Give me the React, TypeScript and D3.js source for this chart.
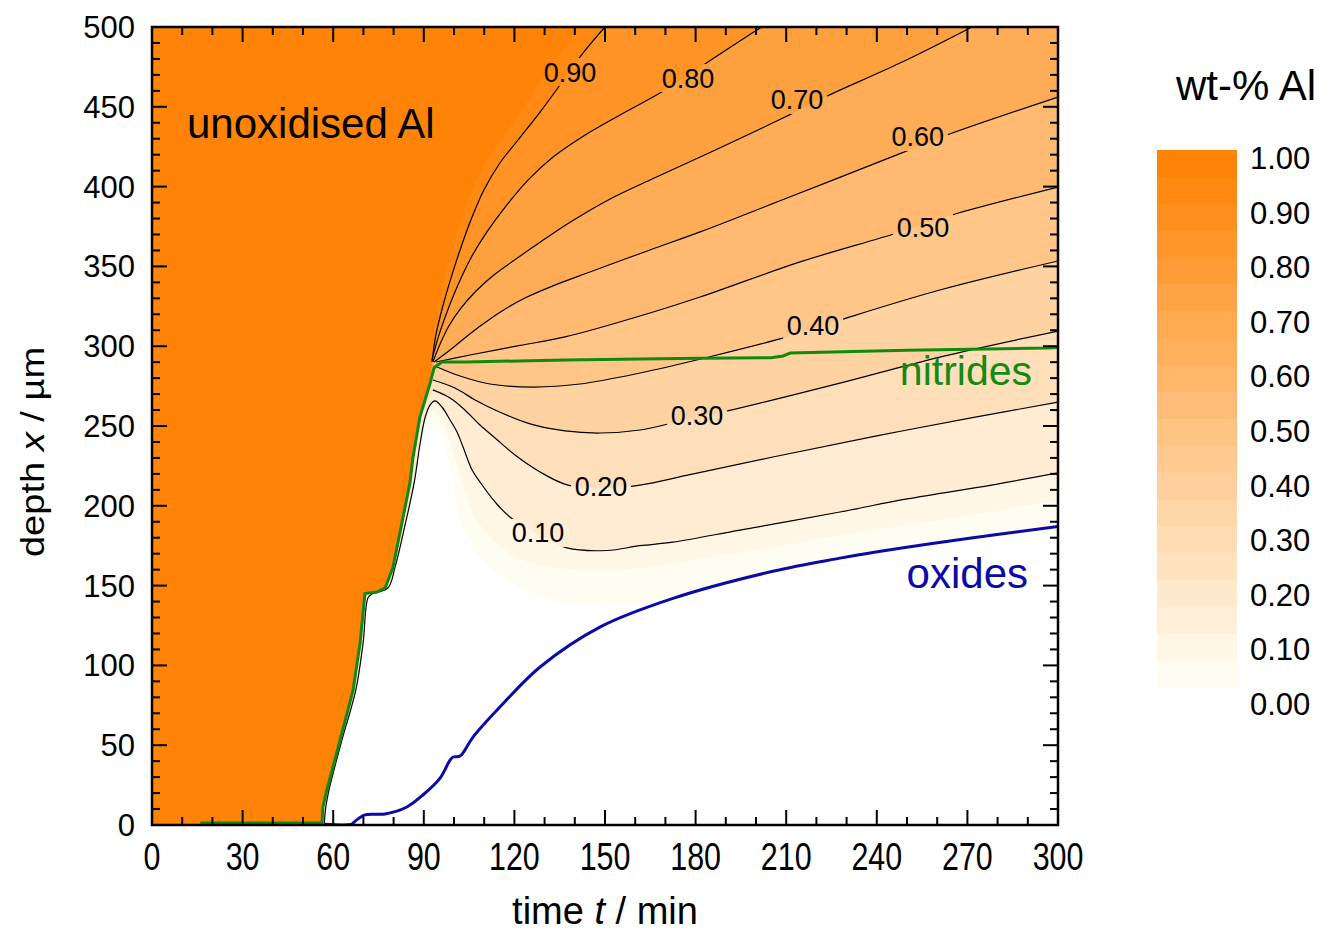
import React from "react";
import * as d3 from "d3";

type P = [number, number];

// axes
const timeTicks = d3.range(0, 301, 30);
const depthTicks = d3.range(0, 501, 50);
const barLabels = [1.0, 0.9, 0.8, 0.7, 0.6, 0.5, 0.4, 0.3, 0.2, 0.1, 0.0];

// [time t (min), depth x (µm)]
const frontEdge: P[] = [
  [56.3, 0], [56.6, 11.3], [57.9, 21.9], [62.3, 53.3], [66.6, 84.6], [68.9, 114.0],
  [70.5, 145.0], [74.4, 146.0], [77.2, 148.5], [79.8, 161.5], [85.4, 214.3],
  [86.4, 230.0], [88.7, 255.6], [92.1, 276.9], [93.4, 286.5],
];
const nitridePlateau: P[] = [
  [96.0, 290.1], [104.3, 290.1], [136.8, 291.4], [161.6, 292.0], [181.5, 292.4],
  [205.0, 292.8], [209.0, 293.9], [211.3, 295.7], [250.0, 297.5], [296.4, 298.9], [300, 299.2],
];
const nitrideBase: P[] = [[16, 1.2], [56.3, 1.2]];
const oxides: P[] = [
  [57, 0.5], [66.2, 0.5], [66.6, 1.3], [70.5, 6.3], [77.2, 6.9], [84.4, 11.3],
  [89.7, 18.8], [95.4, 29.4], [98.7, 40.7], [99.7, 42.6], [102.0, 43.2], [106.3, 55.1],
  [115.2, 73.9], [128.5, 99.0], [148.3, 124.0], [172.5, 142.0], [205.6, 159.0],
  [227.8, 167.2], [238.7, 170.8], [271.9, 180.0], [300, 187.0],
];

// contour levels of wt-% Al
const c000: P[] = [
  [89.1, 241.2], [92.1, 248.7], [94.4, 248.7], [96.4, 241.2], [98.0, 230.0], [99.7, 216.2],
  [102.0, 191.1], [108.6, 167.9], [117.5, 153.5], [128.5, 142.9], [145.0, 137.8],
  [161.6, 139.1], [183.8, 147.2], [205.6, 155.4], [231.1, 164.8], [300, 181.7],
];
const c005: P[] = [
  [90.1, 252.5], [93.0, 259.4], [95.7, 255.0], [98.0, 244.4], [100.3, 229.9], [102.6, 216.2],
  [106.3, 195.5], [111.9, 180.5], [119.5, 169.2], [128.5, 162.9], [145.0, 159.8],
  [161.6, 161.0], [183.8, 167.3], [205.6, 174.2], [227.8, 181.7], [264.2, 192.4], [300, 203.6],
];
const c010: P[] = [
  [57.0, 0], [57.6, 11.9], [58.6, 21.9], [62.9, 53.3], [67.5, 84.6], [69.9, 114.0],
  [71.5, 142.2], [72.8, 144.7], [78.1, 148.5], [80.5, 161.7], [83.8, 188.0], [86.8, 214.3],
  [88.7, 238.1], [90.4, 255.0], [92.1, 263.2], [93.7, 265.7], [96.0, 261.9], [98.7, 253.8],
  [101.0, 246.2], [103.0, 236.8], [106.0, 222.4], [108.6, 214.9], [113.6, 202.4],
  [118.5, 193.0], [127.8, 182.5], [137.4, 173.6], [150.7, 172.0], [161.6, 175.0],
  [172.5, 177.2], [194.7, 184.8], [227.8, 196.1], [250.0, 204.3], [278.0, 213.0], [300, 220.6],
];
const c020: P[] = [
  [93.0, 272.6], [98.7, 267.5], [103.6, 260.0], [108.6, 250.6], [113.6, 242.5], [120.2, 231.8],
  [128.5, 221.2], [137.7, 213.0], [151.7, 211.2], [161.6, 213.0], [178.1, 219.5],
  [205.6, 230.6], [250.0, 247.5], [300, 265.0],
];
const c030: P[] = [
  [93.0, 278.8], [100.3, 273.8], [107.0, 266.3], [113.6, 260.0], [125.2, 251.3], [136.8, 246.9],
  [148.3, 245.6], [161.6, 247.5], [174.8, 253.0], [189.1, 258.8], [227.8, 276.9],
  [260.9, 293.2], [300, 309.5],
];
const c040: P[] = [
  [94.4, 287.0], [102.0, 281.3], [111.9, 276.3], [126.2, 274.4], [141.7, 276.3], [161.6, 283.2],
  [183.1, 292.6], [210.3, 305.8], [227.8, 316.4], [260.9, 335.2], [300, 353.4],
];
const c050: P[] = [
  [94.0, 290.1], [105.3, 294.5], [121.9, 300.5], [136.8, 305.8], [164.9, 320.8], [181.5, 330.8],
  [214.6, 352.8], [246.7, 370.9], [264.9, 382.2], [300, 399.7],
];
const c060: P[] = [
  [93.4, 290.1], [98.7, 297.6], [104.0, 305.8], [109.6, 313.9], [115.9, 322.1], [123.5, 330.2],
  [133.4, 338.3], [145.0, 346.5], [164.9, 360.3], [181.5, 371.6], [208.6, 391.6],
  [248.3, 421.1], [263.2, 432.3], [300, 456.1],
];
const c070: P[] = [
  [93.0, 290.1], [95.4, 301.4], [98.3, 312.7], [102.3, 323.9], [107.3, 334.6], [113.2, 344.6],
  [120.5, 354.6], [129.1, 365.9], [139.1, 378.4], [151.7, 392.2], [164.9, 404.1],
  [181.5, 418.5], [209.6, 443.6], [222.8, 456.1], [247.7, 477.4], [270.9, 499.4], [271.5, 500],
];
const c080: P[] = [
  [92.7, 291.4], [94.7, 305.1], [97.7, 321.4], [101.3, 338.3], [105.6, 355.3], [110.9, 371.6],
  [117.2, 387.8], [124.5, 404.1], [132.8, 418.5], [142.4, 431.1], [155.0, 444.9],
  [168.2, 458.6], [184.1, 478.1], [200.3, 498.1], [202.0, 500],
];
const c090: P[] = [
  [92.7, 290.1], [94.0, 307.0], [96.4, 325.8], [99.0, 342.7], [102.0, 360.3], [105.6, 379.1],
  [109.9, 397.9], [115.2, 414.8], [121.2, 429.2], [128.5, 446.7], [135.8, 465.5],
  [142.7, 483.7], [150.0, 500],
];
const c095: P[] = [
  [92.4, 290.1], [93.4, 307.0], [95.0, 325.8], [97.0, 342.7], [99.3, 360.3], [102.3, 379.1],
  [106.0, 397.9], [110.3, 414.8], [115.6, 429.2], [121.9, 446.7], [128.5, 465.5],
  [135.1, 483.7], [141.7, 500],
];

// where the contour labels sit: [level, t, x]
const contourLabels: [number, number, number][] = [
  [0.9, 138.4, 471.8], [0.8, 177.5, 468.0], [0.7, 213.6, 454.3], [0.6, 253.6, 431.1],
  [0.5, 255.3, 374.1], [0.4, 218.9, 312.7], [0.3, 180.5, 256.3], [0.2, 148.7, 212.4],
  [0.1, 127.8, 183.0],
];

const fills: { level: number; pts: P[] }[] = [
  { level: 0, pts: c000 }, { level: 0.05, pts: c005 }, { level: 0.1, pts: c010 },
  { level: 0.2, pts: c020 }, { level: 0.3, pts: c030 }, { level: 0.4, pts: c040 },
  { level: 0.5, pts: c050 }, { level: 0.6, pts: c060 }, { level: 0.7, pts: c070 },
  { level: 0.8, pts: c080 }, { level: 0.9, pts: c090 }, { level: 0.95, pts: c095 },
];
const drawn = [c010, c020, c030, c040, c050, c060, c070, c080, c090];

const FONT = "'Liberation Sans', Arial, sans-serif";
const bandColor = (i: number) => d3.interpolateRgb("#fffcf2", "#ff8306")(i / 19);

export default function App() {
  const x = d3.scaleLinear().domain([0, 300]).range([152, 1058]);
  const y = d3.scaleLinear().domain([0, 500]).range([825, 27]);
  const barY = d3.scaleLinear().domain([0, 1]).range([687, 150]);
  const barLabelY = d3.scaleLinear().domain([0, 1]).range([704, 158]);

  const smooth = d3
    .line<P>()
    .x((d) => x(d[0]))
    .y((d) => y(d[1]))
    .curve(d3.curveCatmullRom.alpha(0.5));
  const straight = d3.line<P>().x((d) => x(d[0])).y((d) => y(d[1]));
  const lin = (pts: P[]) => pts.map((p) => `L${x(p[0])},${y(p[1])}`).join("");

  // area where wt-% Al is above a contour: the contour, then round the plot edge and down the front
  const region = (pts: P[]) => {
    const first = pts[0];
    const last = pts[pts.length - 1];
    let d = smooth(pts) as string;
    if (last[1] < 499.9) d += lin([[300, 500]]);
    d += lin([[0, 500], [0, 0]]);
    d += lin(frontEdge.filter((p) => p[1] < first[1] - 0.5 && p[0] <= first[0]));
    return d + "Z";
  };

  const band = (level: number) => {
    const i = Math.round(level * 20);
    return level >= 0.1 && level < 0.9 ? bandColor(i + 0.5) : bandColor(i);
  };

  const oxideArea = (smooth(oxides) as string) + lin([[300, 0]]) + "Z";
  const nitrides = [...nitrideBase, ...frontEdge.slice(1), ...nitridePlateau];

  const minorX = d3.range(0, 301, 10);
  const minorY = d3.range(0, 501, 10);

  return (
    <svg
      width={1319}
      height={935}
      style={{ position: "absolute", left: 0, top: 0, background: "#fff" }}
      fontFamily={FONT}
    >
      <defs>
        <clipPath id="plot">
          <rect x={152} y={27} width={906} height={798} />
        </clipPath>
        <mask id="lbl">
          <rect x={0} y={0} width={1319} height={935} fill="#fff" />
          {contourLabels.map(([lv, t, v]) => (
            <rect key={lv} x={x(t) - 30} y={y(v) - 14} width={60} height={28} fill="#000" />
          ))}
        </mask>
      </defs>

      <g clipPath="url(#plot)">
        <rect x={152} y={27} width={906} height={798} fill="#fff" />
        {fills.map((f) => (
          <path key={f.level} d={region(f.pts)} fill={band(f.level)} />
        ))}
        <path d={oxideArea} fill="#fff" />
        <g mask="url(#lbl)" fill="none" stroke="#000" strokeWidth={1.2}>
          {drawn.map((c, i) => (
            <path key={i} d={smooth(c) as string} />
          ))}
        </g>
        <path d={straight(nitrides) as string} fill="none" stroke="#0f8a0f" strokeWidth={3} />
        <path d={smooth(oxides) as string} fill="none" stroke="#0a0aa8" strokeWidth={3} />
      </g>

      {contourLabels.map(([lv, t, v]) => (
        <text key={lv} x={x(t)} y={y(v) + 9.5} fontSize={27} textAnchor="middle" fill="#000">
          {lv.toFixed(2)}
        </text>
      ))}

      <text x={187} y={138} fontSize={42} fill="#000">unoxidised Al</text>
      <text x={1032} y={385} fontSize={41} fill="#138a13" textAnchor="end">nitrides</text>
      <text x={1028} y={588} fontSize={42} fill="#0a0aa8" textAnchor="end">oxides</text>

      {/* frame and ticks */}
      <rect x={152} y={27} width={906} height={798} fill="none" stroke="#000" strokeWidth={2.5} />
      <g stroke="#000" strokeWidth={2}>
        {minorX.map((t) => {
          const len = t % 30 === 0 ? 15 : 8;
          return (
            <g key={t}>
              <line x1={x(t)} x2={x(t)} y1={825} y2={825 - len} />
              <line x1={x(t)} x2={x(t)} y1={27} y2={27 + len} />
            </g>
          );
        })}
        {minorY.map((v) => {
          const len = v % 50 === 0 ? 15 : 8;
          return (
            <g key={v}>
              <line x1={152} x2={152 + len} y1={y(v)} y2={y(v)} />
              <line x1={1058} x2={1058 - len} y1={y(v)} y2={y(v)} />
            </g>
          );
        })}
      </g>

      {timeTicks.map((t) => (
        <g key={t} transform={`translate(${x(t)},870) scale(0.8,1)`}>
          <text fontSize={38} textAnchor="middle" fill="#000">{t}</text>
        </g>
      ))}
      {depthTicks.map((v) => (
        <text key={v} x={135} y={y(v) + 11} fontSize={31} textAnchor="end" fill="#000">
          {v}
        </text>
      ))}

      <text x={605} y={924} fontSize={38} textAnchor="middle" fill="#000">
        time <tspan fontStyle="italic">t</tspan> / min
      </text>
      <g transform="translate(44,452) rotate(-90) scale(1.12,1)">
        <text fontSize={34} textAnchor="middle" fill="#000">
          depth <tspan fontStyle="italic">x</tspan> / µm
        </text>
      </g>

      {/* colour scale */}
      <text x={1316} y={100} fontSize={42} textAnchor="end" fill="#000">wt-% Al</text>
      {d3.range(20).map((i) => (
        <rect
          key={i}
          x={1157}
          y={barY((i + 1) / 20)}
          width={80}
          height={barY(i / 20) - barY((i + 1) / 20) + 0.5}
          fill={bandColor(i)}
        />
      ))}
      {barLabels.map((v) => (
        <text key={v} x={1250} y={barLabelY(v) + 11} fontSize={31} fill="#000">
          {v.toFixed(2)}
        </text>
      ))}
    </svg>
  );
}
